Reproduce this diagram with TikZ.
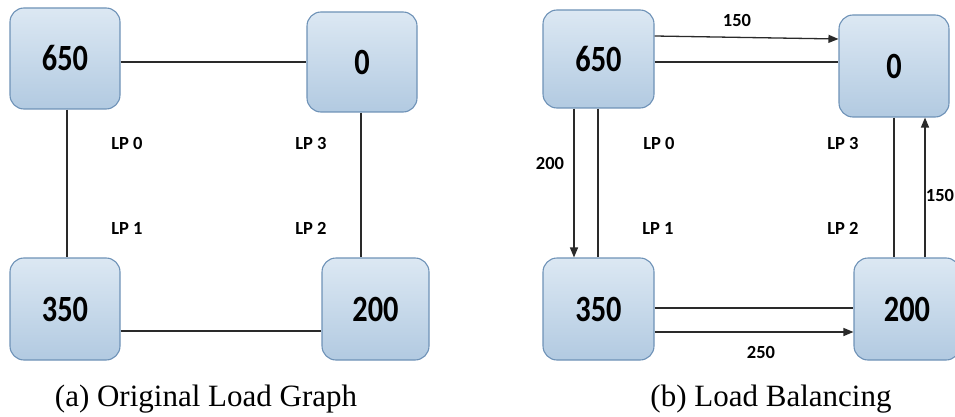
\documentclass[tikz,border=0pt]{standalone}
\usepackage{fontspec}
\setmainfont{Liberation Serif}
\newfontfamily\lblfont{Carlito}
\newfontfamily\numfont[FakeStretch=0.82]{Carlito}
\usetikzlibrary{arrows.meta}

\definecolor{boxborder}{HTML}{6E92B7}
\definecolor{boxtop}{HTML}{DCE8F3}
\definecolor{boxmid}{HTML}{E4EDF6}
\definecolor{boxbot}{HTML}{B2CAE1}
\definecolor{wire}{HTML}{2A2A2A}

\tikzset{
  lpbox/.style={draw=boxborder, line width=1.1pt, rounded corners=14pt,
    top color=boxtop, middle color=boxmid, bottom color=boxbot,
    inner sep=0pt, font=\numfont\bfseries\fontsize{37}{40}\selectfont},
  wireline/.style={draw=wire, line width=1.3pt},
  flow/.style={wireline, -{Triangle[length=10pt,width=8pt]}},
  lplabel/.style={font=\lblfont\bfseries\fontsize{18.5}{21}\selectfont, inner sep=0pt},
  caption/.style={font=\fontsize{31}{34}\selectfont, inner sep=0pt, anchor=base}
}

\begin{document}
\begin{tikzpicture}[x=1pt,y=-1pt]
  \clip (0,0) rectangle (955,417);

  % ---- (a) original load graph ----
  \node[lpbox, minimum width=110pt, minimum height=101pt] (a650) at (65,58.5) {650};
  \node[lpbox, minimum width=110pt, minimum height=100pt] (a0)   at (362,62) {0};
  \node[lpbox, minimum width=110pt, minimum height=102pt] (a350) at (65,309) {350};
  \node[lpbox, minimum width=107pt, minimum height=102pt] (a200) at (375.5,309) {200};

  \draw[wireline] (a650.east |- 0,62) -- (a0.west |- 0,62);
  \draw[wireline] (a650.south -| 67,0) -- (a350.north -| 67,0);
  \draw[wireline] (a0.south -| 361,0) -- (a200.north -| 361,0);
  \draw[wireline] (a350.east |- 0,331) -- (a200.west |- 0,331);

  \node[lplabel] (alp0) at (127,143) {LP 0};
  \node[lplabel] (alp3) at (311,143) {LP 3};
  \node[lplabel] (alp1) at (127,228) {LP 1};
  \node[lplabel] (alp2) at (311,228) {LP 2};

  % ---- (b) load balancing ----
  \node[lpbox, minimum width=111pt, minimum height=98pt]  (b650) at (598.5,59) {650};
  \node[lpbox, minimum width=110pt, minimum height=102pt] (b0)   at (894,66) {0};
  \node[lpbox, minimum width=111pt, minimum height=102pt] (b350) at (598.5,309) {350};
  \node[lpbox, minimum width=106pt, minimum height=102pt] (b200) at (907,309) {200};

  % edges of the graph
  \draw[wireline] (b650.east |- 0,62) -- (b0.west |- 0,62);
  \draw[wireline] (b650.south -| 598,0) -- (b350.north -| 598,0);
  \draw[wireline] (b0.south -| 894,0) -- (b200.north -| 894,0);
  \draw[wireline] (b350.east |- 0,308) -- (b200.west |- 0,308);

  % load transfers
  \draw[flow] (b650.east |- 0,36) -- (b0.west |- 0,39);
  \draw[flow] (b650.south -| 574,0) -- (b350.north -| 574,0);
  \draw[flow] (b200.north -| 925,0) -- (b0.south -| 925,0);
  \draw[flow] (b350.east |- 0,332) -- (b200.west |- 0,332);

  \node[lplabel] (t150a) at (737,20) {150};
  \node[lplabel] (t200)  at (550,163) {200};
  \node[lplabel] (t150b) at (940,195) {150};
  \node[lplabel] (t250)  at (761,352) {250};

  \node[lplabel] (blp0) at (659,143) {LP 0};
  \node[lplabel] (blp3) at (843,143) {LP 3};
  \node[lplabel] (blp1) at (658,228) {LP 1};
  \node[lplabel] (blp2) at (843,228) {LP 2};

  % ---- captions ----
  \node[caption] (capa) at (206,406) {(a) Original Load Graph};
  \node[caption] (capb) at (771,406) {(b) Load Balancing};
\end{tikzpicture}
\end{document}
